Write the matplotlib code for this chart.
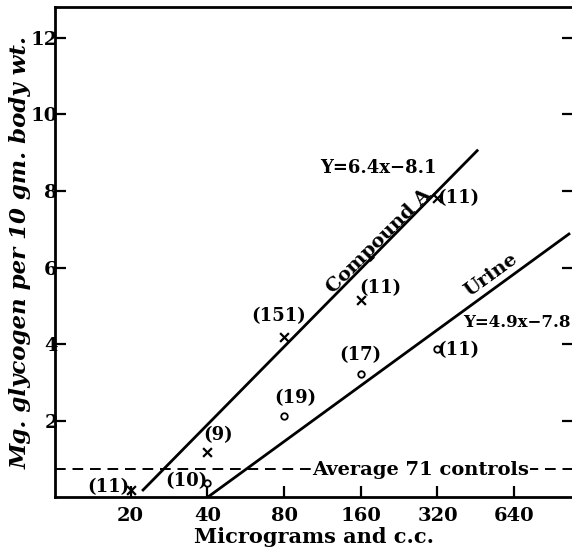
import numpy as np
import matplotlib.pyplot as plt
from matplotlib.ticker import FixedLocator, NullLocator

# dose (micrograms / c.c.), glycogen mg per 10 gm body wt.
compound_x = [20, 40, 80, 160, 320]
compound_y = [0.2, 1.2, 4.18, 5.15, 7.82]
compound_n = ['(11)', '(9)', '(151)', '(11)', '(11)']

urine_x = [40, 80, 160, 320]
urine_y = [0.38, 2.13, 3.22, 3.88]
urine_n = ['(10)', '(19)', '(17)', '(11)']

# fitted lines as drawn
compound_line_x = [22.2, 462]
compound_line_y = [0.17, 9.08]
urine_line_x = [40, 1060]
urine_line_y = [0.0, 6.9]

control_avg = 0.75

x_ticks = [20, 40, 80, 160, 320, 640]
y_ticks = [2, 4, 6, 8, 10, 12]

plt.rcParams['font.family'] = ['DejaVu Serif']

fig = plt.figure(figsize=(5.72, 5.54), dpi=100)
ax = fig.add_axes([0.096, 0.102, 0.906, 0.885])

ax.set_xscale('log', base=2)
ax.set_xlim(10.1, 1090)
ax.set_ylim(0, 12.8)

ax.plot(compound_line_x, compound_line_y, color='black', lw=2.0, solid_capstyle='butt')
ax.plot(urine_line_x, urine_line_y, color='black', lw=2.0, solid_capstyle='butt')
ax.axhline(control_avg, color='black', lw=1.4, ls=(0, (5.5, 3.5)))

ax.scatter(compound_x, compound_y, marker='x', s=40, color='black', linewidths=1.6, zorder=3)
ax.scatter(urine_x, urine_y, marker='o', s=22, facecolors='white', edgecolors='black',
           linewidths=1.3, zorder=3)

# point counts
lbl = dict(fontsize=13, fontweight='bold', color='black')
comp_off = [(-16, 2), (8, 12), (-4, 15), (14, 9), (15, 0)]
for x, y, t, (dx, dy) in zip(compound_x, compound_y, compound_n, comp_off):
    ax.annotate(t, (x, y), xytext=(dx, dy), textcoords='offset points',
                ha='center', va='center', **lbl)
urine_off = [(-15, 1), (8, 13), (0, 14), (15, -1)]
for x, y, t, (dx, dy) in zip(urine_x, urine_y, urine_n, urine_off):
    ax.annotate(t, (x, y), xytext=(dx, dy), textcoords='offset points',
                ha='center', va='center', **lbl)

ax.text(275, 0.72, 'Average 71 controls', fontsize=14, fontweight='bold', ha='center',
        va='center', bbox=dict(facecolor='white', edgecolor='none', pad=1))
ax.text(188, 8.6, 'Y=6.4x\u22128.1', fontsize=13, fontweight='bold', ha='center', va='center')
ax.text(188, 6.7, 'Compound A', fontsize=14, fontweight='bold', ha='center', va='center',
        rotation=45)
ax.text(520, 5.8, 'Urine', fontsize=14, fontweight='bold', ha='center', va='center',
        rotation=36)
ax.text(655, 4.56, 'Y=4.9x\u22127.8', fontsize=12, fontweight='bold', ha='center', va='center')

ax.xaxis.set_major_locator(FixedLocator(x_ticks))
ax.xaxis.set_minor_locator(NullLocator())
ax.set_xticklabels([str(v) for v in x_ticks])
ax.set_yticks(y_ticks)
ax.tick_params(axis='both', direction='in', length=8, width=1.6, labelsize=14)
ax.tick_params(axis='x', pad=7)
ax.tick_params(axis='y', right=True, pad=-2)
for t in ax.get_xticklabels() + ax.get_yticklabels():
    t.set_fontweight('bold')

ax.spines['right'].set_visible(False)
for s in ['left', 'top', 'bottom']:
    ax.spines[s].set_linewidth(2.0)

ax.set_xlabel('Micrograms and c.c.', fontsize=15, fontweight='bold', labelpad=1)
ax.set_ylabel('Mg. glycogen per 10 gm. body wt.', fontsize=16.5, fontweight='bold',
              style='italic', labelpad=-1)

fig.savefig('out.png', dpi=100)
